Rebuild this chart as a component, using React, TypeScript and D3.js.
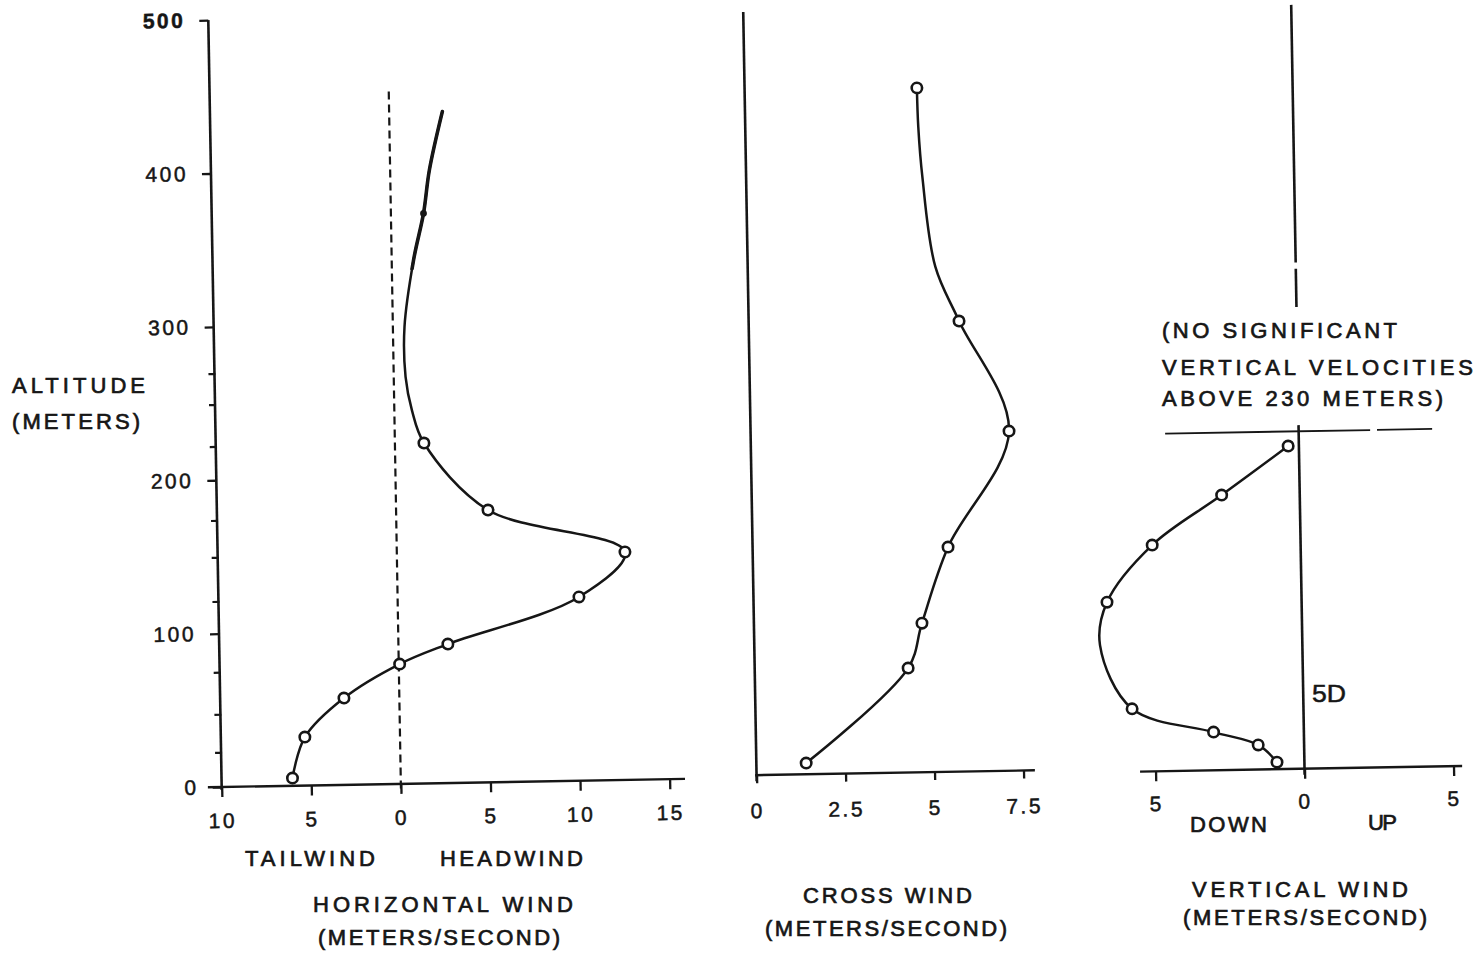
import React, { useEffect, useRef } from 'react';
import * as d3 from 'd3';

const W = 1478;
const H = 953;

// ---- Horizontal wind profile (m/s; negative = tailwind, positive = headwind)
const hwAltitude = [5, 31.6, 56.6, 78.1, 90.6, 119.8, 148.6, 177.5, 221.9, 243.5, 265.3, 298, 341.3, 371.6, 399.8, 437.7];
const hwSpeed = [-6.04, -5.31, -3.09, 0.05, 2.76, 10.12, 12.73, 5.13, 1.62, 0.98, 0.66, 0.65, 1.22, 1.82, 2.19, 2.97];
const hwMarker = ['o', 'o', 'o', 'o', 'o', 'o', 'o', 'o', 'o', '', '', '', '', '•', '', ''];
const hwTicks = [-10, -5, 0, 5, 10, 15];
const altTicks = [0, 100, 200, 300, 400, 500];
const altMarks = [22.3, 47.1, 74.5, 120.7, 149.4, 173.5, 221.7, 249, 269.2];

// ---- Cross wind profile (m/s)
const cwAltitude = [7.3, 68.1, 97.2, 146.5, 221.4, 293.7, 329.4, 388.2, 420.8, 446.1];
const cwSpeed = [1.4, 4.31, 4.72, 5.49, 7.26, 5.91, 5.27, 4.95, 4.86, 4.84];
const cwMarker = ['o', 'o', 'o', 'o', 'o', 'o', '', '', '', 'o'];
const cwTicks = [0, 2.5, 5, 7.5];

// ---- Vertical wind profile (m/s; negative = down, positive = up)
const vwAltitude = [4.6, 16.0, 24.9, 41.0, 82.9, 110.8, 147.5, 179.3, 210.5];
const vwSpeed = [-0.92, -1.54, -3.03, -5.75, -6.79, -6.53, -4.98, -2.62, -0.36];
const vwMarker = ['o', 'o', 'o', 'o', '', 'o', 'o', 'o', 'o'];
const vwTicks = [-5, 0, 5];
const noSignificantAlt = 220;

export default function App() {
  const ref = useRef<SVGSVGElement>(null);

  useEffect(() => {
    const svg = d3.select(ref.current);
    svg.selectAll('*').remove();
    const ink = '#161616';
    const font = "'Liberation Sans', Arial, sans-serif";

    svg.append('rect').attr('width', W).attr('height', H).attr('fill', '#ffffff');
    const g = svg.append('g').attr('transform', 'rotate(-1 740 400)');

    const xH = d3.scaleLinear().domain([-10, 15]).range([215, 663]);
    const yH = d3.scaleLinear().domain([0, 500]).range([777.9, 10.9]);
    const xC = d3.scaleLinear().domain([0, 7.5]).range([750, 1017]);
    const yC = d3.scaleLinear().domain([0, 500]).range([775.4, 8.4]);
    const xV = d3.scaleLinear().domain([-5, 5]).range([1149, 1447]);
    const yV = d3.scaleLinear().domain([0, 500]).range([778.5, 11.5]);

    const seg = (x1: number, y1: number, x2: number, y2: number, w = 2, dash?: string) => {
      const l = g.append('line').attr('x1', x1).attr('y1', y1).attr('x2', x2).attr('y2', y2)
        .attr('stroke', ink).attr('stroke-width', w).attr('stroke-linecap', 'butt');
      if (dash) l.attr('stroke-dasharray', dash);
      return l;
    };

    const styleAxis = (sel: any) => {
      sel.select('.domain').remove();
      sel.selectAll('.tick line').attr('stroke', ink).attr('stroke-width', 2.3);
      sel.selectAll('.tick text').attr('fill', ink).attr('font-family', font)
        .attr('font-size', 21).attr('letter-spacing', 2.5)
        .attr('stroke', ink).attr('stroke-width', 0.5);
    };

    // ---------- Horizontal wind panel ----------
    const axL = g.append('g').attr('transform', `translate(${xH(-10)},0)`)
      .call(d3.axisLeft(yH).tickValues(altTicks).tickSize(9).tickPadding(14).tickSizeOuter(0));
    styleAxis(axL);
    axL.selectAll('.tick text').filter((d: any) => d === 500).attr('font-weight', 'bold');
    seg(xH(-10), yH(-2), xH(-10), yH(500), 2.6);
    altMarks.forEach((a) => seg(xH(-10) - 6, yH(a), xH(-10) + 1, yH(a), 2.2));

    const axBH = g.append('g').attr('transform', `translate(0,${yH(0)})`)
      .call(d3.axisBottom(xH).tickValues(hwTicks).tickSize(10).tickPadding(16)
        .tickFormat((d: any) => String(Math.abs(d))));
    styleAxis(axBH);
    seg(xH(-10.77), yH(0), xH(15.86), yH(0), 2.4);
    seg(xH(0), yH(-3), xH(0), yH(452), 2.2, '8 5');

    const line = d3.line<[number, number]>().curve(d3.curveCatmullRom.alpha(0.5));

    const drawProfile = (
      alts: number[], vals: number[], marks: string[],
      xs: d3.ScaleLinear<number, number>, ys: d3.ScaleLinear<number, number>, clipId?: string
    ) => {
      const pts = alts.map((a, i) => [xs(vals[i]), ys(a)] as [number, number]);
      g.append('path').attr('d', line(pts)).attr('fill', 'none').attr('stroke', ink)
        .attr('stroke-width', 2.5).attr('stroke-linejoin', 'round');
      if (clipId) {
        g.append('path').attr('d', line(pts)).attr('fill', 'none').attr('stroke', ink)
          .attr('stroke-width', 3.6).attr('stroke-linecap', 'round').attr('clip-path', `url(#${clipId})`);
      }
      pts.forEach((p, i) => {
        if (marks[i] === 'o') {
          g.append('circle').attr('cx', p[0]).attr('cy', p[1]).attr('r', 5.2)
            .attr('fill', '#fff').attr('stroke', ink).attr('stroke-width', 2.6);
        } else if (marks[i] === '•') {
          g.append('circle').attr('cx', p[0]).attr('cy', p[1]).attr('r', 3.4).attr('fill', ink);
        }
      });
    };

    const defs = svg.append('defs');
    defs.append('clipPath').attr('id', 'upperHW').attr('clipPathUnits', 'userSpaceOnUse')
      .append('rect').attr('x', 0).attr('y', 0).attr('width', W).attr('height', yH(335));

    drawProfile(hwAltitude, hwSpeed, hwMarker, xH, yH, 'upperHW');

    // ---------- Cross wind panel ----------
    seg(xC(0), yC(-4), xC(0), yC(497.6), 2.6);
    const axBC = g.append('g').attr('transform', `translate(0,${yC(0)})`)
      .call(d3.axisBottom(xC).tickValues(cwTicks).tickSize(8).tickPadding(20)
        .tickFormat((d: any) => String(d)));
    styleAxis(axBC);
    seg(xC(-0.04), yC(0), xC(7.82), yC(0), 2.4);
    drawProfile(cwAltitude, cwSpeed, cwMarker, xC, yC);

    // ---------- Vertical wind panel ----------
    [[498, 330], [326, 301], [224, -4]].forEach(([a1, a2]) => seg(xV(0), yV(a1), xV(0), yV(a2), 2.6));
    const axBV = g.append('g').attr('transform', `translate(0,${yV(0)})`)
      .call(d3.axisBottom(xV).tickValues(vwTicks).tickSize(10).tickPadding(15)
        .tickFormat((d: any) => String(Math.abs(d))));
    styleAxis(axBV);
    seg(xV(-5.52), yV(0), xV(5.29), yV(0), 2.4);
    seg(xV(-4.48), yV(noSignificantAlt), xV(2.4), yV(noSignificantAlt), 1.8);
    seg(xV(2.63), yV(noSignificantAlt), xV(4.48), yV(noSignificantAlt), 1.8);
    drawProfile(vwAltitude, vwSpeed, vwMarker, xV, yV);

    // ---------- Labels ----------
    const labels: [string, number, number, number][] = [
      ['ALTITUDE', 12, 393, 133],
      ['(METERS)', 12, 429, 128],
      ['TAILWIND', 245, 866, 130],
      ['HEADWIND', 440, 866, 143],
      ['HORIZONTAL WIND', 313, 912, 260],
      ['(METERS/SECOND)', 318, 945, 242],
      ['CROSS WIND', 803, 903, 169],
      ['(METERS/SECOND)', 765, 936, 242],
      ['DOWN', 1190, 832, 77],
      ['UP', 1368, 830, 29],
      ['VERTICAL WIND', 1192, 897, 216],
      ['(METERS/SECOND)', 1183, 925, 244],
      ['(NO SIGNIFICANT', 1162, 338, 235],
      ['VERTICAL VELOCITIES', 1162, 375, 311],
      ['ABOVE 230 METERS)', 1162, 406, 281],
    ];
    labels.forEach(([t, x, y, w]) => {
      svg.append('text').attr('x', x).attr('y', y).attr('textLength', w)
        .attr('lengthAdjust', 'spacing').attr('font-family', font).attr('font-size', 22)
        .attr('fill', ink).attr('stroke', ink).attr('stroke-width', 0.7).text(t);
    });
    svg.append('text').attr('x', 1312).attr('y', 702).attr('textLength', 34)
      .attr('lengthAdjust', 'spacingAndGlyphs').attr('font-family', font).attr('font-size', 23)
      .attr('fill', ink).attr('stroke', ink).attr('stroke-width', 0.5).text('5D');
  }, []);

  return (
    <svg ref={ref} width={W} height={H} viewBox={`0 0 ${W} ${H}`}
      style={{ position: 'absolute', left: 0, top: 0, display: 'block' }} />
  );
}
